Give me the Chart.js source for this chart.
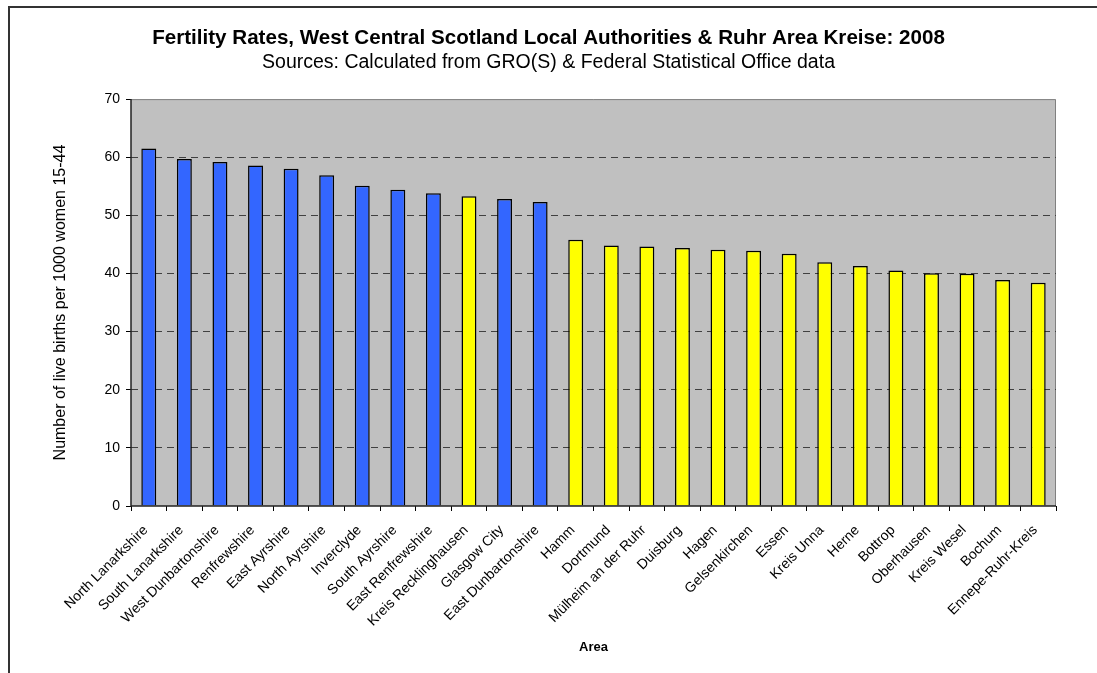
<!DOCTYPE html>
<html>
<head>
<meta charset="utf-8">
<title>Fertility Rates 2008</title>
<script src="https://cdn.jsdelivr.net/npm/chart.js@4.4.1/dist/chart.umd.min.js"></script>
<style>
    html, body { margin: 0; padding: 0; background: #fff; overflow: hidden; }
    #frame {
        position: absolute; left: 8px; top: 6px;
        width: 1200px; height: 800px;
        border: 2px solid #333;
    }
    #myChart { position: absolute; left: 0; top: 0; }
</style>
</head>
<body>
<div id="frame"></div>
<canvas id="myChart" width="1097" height="673"></canvas>
<script>
// Data
const categories = [
    'North Lanarkshire', 'South Lanarkshire', 'West Dunbartonshire', 'Renfrewshire',
    'East Ayrshire', 'North Ayrshire', 'Inverclyde', 'South Ayrshire',
    'East Renfrewshire', 'Kreis Recklinghausen', 'Glasgow City', 'East Dunbartonshire',
    'Hamm', 'Dortmund', 'Mülheim an der Ruhr', 'Duisburg', 'Hagen', 'Gelsenkirchen',
    'Essen', 'Kreis Unna', 'Herne', 'Bottrop', 'Oberhausen', 'Kreis Wesel', 'Bochum',
    'Ennepe-Ruhr-Kreis'
];
const fertilityRates = [
    61.5, 59.7, 59.2, 58.6, 58.0, 56.9, 55.1, 54.4, 53.8, 53.3, 52.8, 52.3,
    45.8, 44.8, 44.65, 44.4, 44.1, 43.9, 43.4, 41.95, 41.3, 40.5, 40.05, 39.95, 38.9, 38.4
];
// S = West Central Scotland, R = Ruhr
const regions = [
    'S', 'S', 'S', 'S', 'S', 'S', 'S', 'S', 'S', 'R', 'S', 'S',
    'R', 'R', 'R', 'R', 'R', 'R', 'R', 'R', 'R', 'R', 'R', 'R', 'R', 'R'
];
const yTicks = [0, 10, 20, 30, 40, 50, 60, 70];

const regionColors = { S: '#3366FF', R: '#FFFF00' };

document.addEventListener('DOMContentLoaded', () => {
    Chart.defaults.font.family = '"Liberation Sans", Arial, sans-serif';
    Chart.defaults.color = '#000';

    // grey plot background, grey top/right edge, solid dark left/bottom axes
    const plotBackground = {
        id: 'plotBackground',
        beforeDraw(chart) {
            const { ctx, chartArea: a } = chart;
            ctx.save();
            ctx.fillStyle = '#C0C0C0';
            ctx.fillRect(a.left, a.top, a.right - a.left, a.bottom - a.top);
            ctx.strokeStyle = '#808080';
            ctx.lineWidth = 1;
            ctx.beginPath();
            ctx.moveTo(a.left, a.top + 0.5);
            ctx.lineTo(a.right - 0.5, a.top + 0.5);
            ctx.lineTo(a.right - 0.5, a.bottom);
            ctx.stroke();
            ctx.restore();
        },
        afterDatasetsDraw(chart) {
            const { ctx, chartArea: a } = chart;
            ctx.save();
            ctx.strokeStyle = '#222';
            ctx.lineWidth = 1.5;
            ctx.beginPath();
            ctx.moveTo(a.left, a.top);
            ctx.lineTo(a.left, a.bottom);
            ctx.lineTo(a.right, a.bottom);
            ctx.stroke();
            ctx.restore();
        }
    };

    const ctx = document.getElementById('myChart').getContext('2d');
    new Chart(ctx, {
        type: 'bar',
        data: {
            labels: categories,
            datasets: [{
                data: fertilityRates,
                backgroundColor: regions.map(r => regionColors[r]),
                borderColor: '#000',
                borderWidth: 1.5,
                barPercentage: 0.42,
                categoryPercentage: 1.0
            }]
        },
        options: {
            responsive: false,
            animation: false,
            // equal side padding keeps the titles centred on the canvas
            layout: { padding: { left: 41, right: 41, top: 0, bottom: 0 } },
            plugins: {
                legend: { display: false },
                tooltip: { enabled: false },
                title: {
                    display: true,
                    text: 'Fertility Rates, West Central Scotland Local Authorities & Ruhr Area Kreise: 2008',
                    font: { size: 20.6, weight: 'bold' },
                    color: '#000',
                    padding: { top: 26, bottom: 0 }
                },
                subtitle: {
                    display: true,
                    text: 'Sources: Calculated from GRO(S) & Federal Statistical Office data',
                    font: { size: 19.5 },
                    color: '#000',
                    padding: { top: 0, bottom: 25 }
                }
            },
            scales: {
                x: {
                    afterFit: (scale) => { scale.height = 167; },
                    border: { display: false },
                    grid: {
                        offset: true,
                        drawOnChartArea: false,
                        drawTicks: true,
                        tickLength: 5,
                        tickColor: '#000'
                    },
                    ticks: {
                        autoSkip: false,
                        maxRotation: 45,
                        minRotation: 45,
                        labelOffset: -3,
                        font: { size: 14 },
                        color: '#000',
                        padding: 11
                    },
                    title: {
                        display: true,
                        text: 'Area',
                        font: { size: 13, weight: 'bold' },
                        color: '#000',
                        padding: { top: 0, bottom: 18 }
                    }
                },
                y: {
                    min: 0,
                    max: 70,
                    afterFit: (scale) => { scale.width = 90; },
                    afterBuildTicks: (scale) => {
                        scale.ticks = yTicks.map(v => ({ value: v }));
                    },
                    border: { display: false, dash: [7, 5] },
                    grid: {
                        color: (c) => (c.tick && (c.tick.value === 0 || c.tick.value === 70)) ? 'rgba(0,0,0,0)' : '#404040',
                        lineWidth: 1,
                        drawTicks: true,
                        tickLength: 5,
                        tickColor: '#000',
                        tickBorderDash: []
                    },
                    ticks: {
                        font: { size: 14 },
                        color: '#000',
                        padding: 6
                    },
                    title: {
                        display: true,
                        text: 'Number of live births per 1000 women 15-44',
                        font: { size: 16 },
                        color: '#000',
                        padding: { top: 10, bottom: 0 }
                    }
                }
            }
        },
        plugins: [plotBackground]
    });
});
</script>
</body>
</html>
